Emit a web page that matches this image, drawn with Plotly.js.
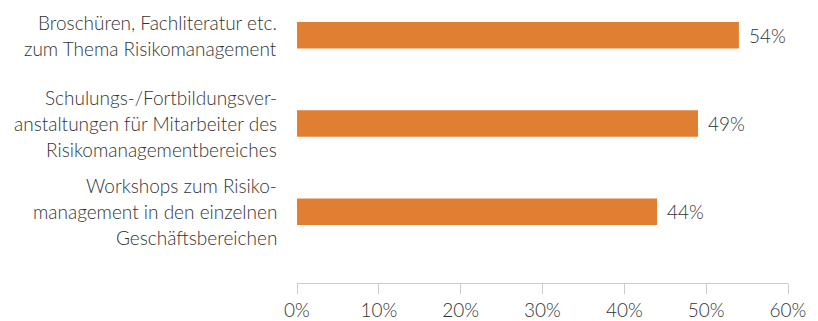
<!DOCTYPE html>
<html>
<head>
<meta charset="utf-8">
<script src="https://cdn.plot.ly/plotly-3.0.1.min.js"></script>
<style>html,body{margin:0;padding:0;background:#fff;}#chart{width:818px;height:321px;}</style>
</head>
<body>
<div id="chart"></div>
<script>
// Data
const categoryLines = [
  ["Broschüren, Fachliteratur etc.", "zum Thema Risikomanagement"],
  ["Schulungs-/Fortbildungsver-", "anstaltungen für Mitarbeiter des", "Risikomanagementbereiches"],
  ["Workshops zum Risiko-", "management in den einzelnen", "Geschäftsbereichen"]
];
const values = [54, 49, 44];
const tickVals = [0, 10, 20, 30, 40, 50, 60];
const tickLabels = ["0%", "10%", "20%", "30%", "40%", "50%", "60%"];

const FONT = "Lato, 'Open Sans', sans-serif";
const TXT = "#333333";
const FS = 19;
const categories = categoryLines.map(l => l.join(" "));

const trace = {
  type: "bar",
  orientation: "h",
  x: values,
  y: categories,
  width: 0.30,
  marker: {color: "#E07E31"},
  hoverinfo: "none"
};

const annotations = [];
categoryLines.forEach((lines, i) => {
  const n = lines.length;
  lines.forEach((ln, j) => {
    annotations.push({
      xref: "paper", yref: "y", x: 0, y: i,
      xanchor: "right", yanchor: "middle",
      xshift: -18, yshift: ((n - 1) / 2 - j) * 26,
      text: ln, showarrow: false,
      font: {family: FONT, size: FS, color: TXT, weight: 300}
    });
  });
});
values.forEach((v, i) => {
  annotations.push({
    xref: "x", yref: "y", x: v, y: i,
    xanchor: "left", yanchor: "middle", xshift: 8,
    text: v + "%", showarrow: false,
    font: {family: FONT, size: FS, color: TXT, weight: 300}
  });
});

const layout = {
  width: 818, height: 321,
  margin: {l: 297, r: 30, t: 0, b: 38},
  paper_bgcolor: "#fff", plot_bgcolor: "#fff",
  showlegend: false,
  font: {family: FONT, size: FS, color: TXT},
  xaxis: {
    range: [0, 60], tickvals: tickVals, ticktext: tickLabels,
    showgrid: false, zeroline: false,
    showline: true, linecolor: "#cccccc", linewidth: 1,
    ticks: "outside", ticklen: 10, tickcolor: "#cccccc", tickwidth: 1,
    tickfont: {family: FONT, size: FS, color: TXT, weight: 300}
  },
  yaxis: {
    type: "category", range: [2.806, -0.4],
    showticklabels: false, showgrid: false, zeroline: false, showline: false, ticks: ""
  },
  annotations: annotations
};

Plotly.newPlot("chart", [trace], layout, {staticPlot: true, displayModeBar: false});
</script>
</body>
</html>
